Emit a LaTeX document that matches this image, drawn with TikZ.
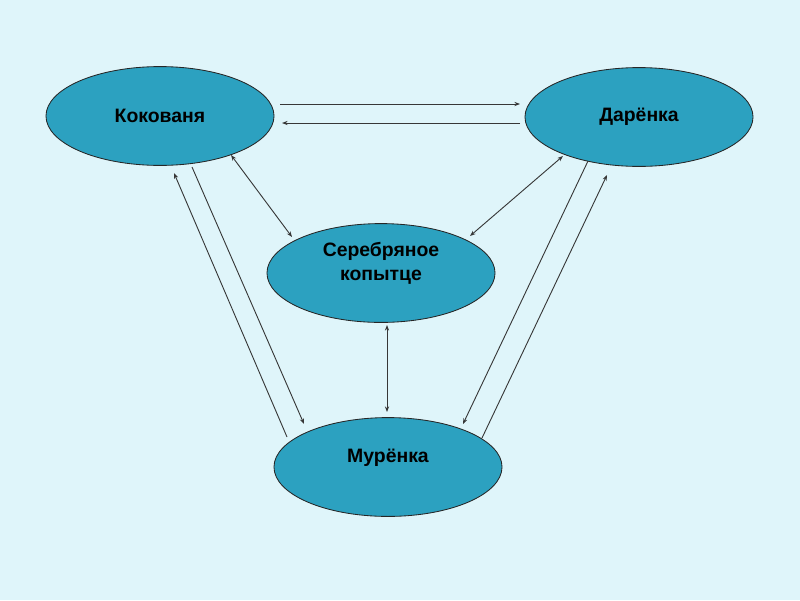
\documentclass[tikz,border=0pt]{standalone}
\usepackage{fontspec}
\setmainfont{Liberation Sans}
\usetikzlibrary{shapes.geometric,arrows.meta}
\definecolor{bgcyan}{RGB}{223,245,250}
\definecolor{ovalteal}{RGB}{44,161,192}
\definecolor{linkgray}{RGB}{55,55,55}

\begin{document}
\begin{tikzpicture}[x=0.025cm, y=-0.025cm,
    oval/.style={ellipse, draw=black!85, fill=ovalteal, line width=0.6pt, minimum width=5.7cm, minimum height=2.47cm, inner sep=0pt},
    hero/.style={font=\fontsize{13.8}{17}\selectfont\bfseries, align=center},
    link/.style={draw=linkgray, line width=0.65pt, >={Stealth[length=4pt,width=3pt]}}]

    % Background
    \fill[bgcyan] (0,0) rectangle (800,600);
    \useasboundingbox (0,0) rectangle (800,600);

    % Characters
    \node[oval, hero] (kov) at (160,116) {Кокованя};
    \node[oval, hero, text height=9.9pt] (dar) at (639,117) {Дарёнка};
    \node[oval] (ser) at (381,273) {};
    \node[hero] (serT) at (381,263) {Серебряное\\копытце};
    \node[oval] (mur) at (388,467) {};
    \node[hero] (murT) at (388,458) {Мурёнка};

    % Top pair
    \draw[link, ->] ([shift={(120,-12)}]kov.center) -- ([shift={(-119,-13)}]dar.center);
    \draw[link, ->] ([shift={(-119,6)}]dar.center) -- ([shift={(122,7)}]kov.center);

    % To the silver hoof
    \draw[link, <->] ([shift={(71,39)}]kov.center) -- ([shift={(-89,-36)}]ser.center);
    \draw[link, <->] ([shift={(-76,39)}]dar.center) -- ([shift={(89,-37)}]ser.center);
    \draw[link, <->] ([shift={(6,52)}]ser.center) -- ([shift={(-1,-55)}]mur.center);

    % Left pair
    \draw[link, ->] ([shift={(32,51)}]kov.center) -- ([shift={(-84,-43)}]mur.center);
    \draw[link, ->] ([shift={(-101,-30)}]mur.center) -- ([shift={(14,57)}]kov.center);

    % Right pair
    \draw[link, ->] ([shift={(-51,44)}]dar.center) -- ([shift={(75,-43)}]mur.center);
    \draw[link, ->] ([shift={(94,-29)}]mur.center) -- ([shift={(-32,58)}]dar.center);
\end{tikzpicture}
\end{document}
